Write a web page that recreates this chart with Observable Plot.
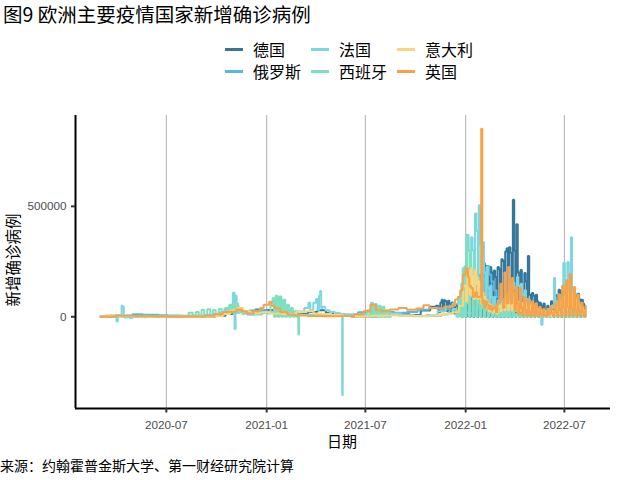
<!DOCTYPE html>
<html>
<head>
<meta charset="utf-8">
<script src="https://cdn.jsdelivr.net/npm/d3@7"></script>
<script src="https://cdn.jsdelivr.net/npm/@observablehq/plot@0.6"></script>
<style>
  body { margin: 0; width: 640px; height: 480px; position: relative; overflow: hidden; background: #fff; font-family: "Noto Sans CJK SC", sans-serif; }
  .abs { position: absolute; white-space: nowrap; color: #000; }
  #chart { position: absolute; left: 0; top: 100px; }
</style>
</head>
<body>
<div class="abs" id="title" style="left:3px; top:2px; font-size:19.5px; line-height:24px;">图9 欧洲主要疫情国家新增确诊病例</div>
<div id="legend"></div>
<div id="chart"></div>
<div class="abs" style="left:242px; top:430px; width:200px; text-align:center; font-size:15px; line-height:22px;">日期</div>
<div class="abs" style="left:-88px; top:249px; width:200px; text-align:center; font-size:15.5px; line-height:22px; transform:rotate(-90deg);">新增确诊病例</div>
<div class="abs" style="left:0px; top:455px; font-size:14px; line-height:20px;">来源：约翰霍普金斯大学、第一财经研究院计算</div>
<script>
const countries = ["德国", "俄罗斯", "法国", "西班牙", "意大利", "英国"];
const colors = ["#35769B", "#56B9E4", "#7ED7DF", "#7EE0C0", "#FBD57E", "#F7A148"];
const tickDates = ["2020-07-01", "2021-01-01", "2021-07-01", "2022-01-01", "2022-07-01"];
const yTicks = [0, 500000];

const germany = [["2020-03-01",100],["2020-03-15",1500],["2020-03-27",6500],["2020-04-03",6000],["2020-04-12",3000],["2020-04-25",1500],["2020-05-15",600],["2020-06-20",800],["2020-07-20",500],["2020-08-20",1500],["2020-09-20",1800],["2020-10-10",4500],["2020-10-25",12000],["2020-11-06",22000],["2020-11-20",23000],["2020-12-05",20000],["2020-12-18",33000],["2020-12-24",22000],["2020-12-30",30000],["2021-01-08",31000],["2021-01-20",17000],["2021-02-05",11000],["2021-02-20",8000],["2021-03-10",12000],["2021-03-25",22000],["2021-04-14",29000],["2021-04-25",18000],["2021-05-10",9000],["2021-05-25",5000],["2021-06-15",1500],["2021-07-10",700],["2021-08-05",2500],["2021-08-25",12000],["2021-09-10",11000],["2021-10-01",8000],["2021-10-20",28000],["2021-11-05",45000],["2021-11-10",50000],["2021-11-14",20000],["2021-11-17",65000],["2021-11-19",77000],["2021-11-21",25000],["2021-11-24",75000],["2021-11-26",70000],["2021-11-28",25000],["2021-12-01",72000],["2021-12-03",60000],["2021-12-05",20000],["2021-12-08",65000],["2021-12-10",54000],["2021-12-12",15000],["2021-12-15",55000],["2021-12-17",50000],["2021-12-19",12000],["2021-12-22",45000],["2021-12-24",30000],["2021-12-26",0],["2021-12-29",40000],["2021-12-31",42000],["2022-01-02",0],["2022-01-05",58000],["2022-01-07",56000],["2022-01-09",0],["2022-01-12",80000],["2022-01-14",90000],["2022-01-16",0],["2022-01-19",130000],["2022-01-21",140000],["2022-01-23",0],["2022-01-26",165000],["2022-01-28",190000],["2022-01-30",0],["2022-02-02",240000],["2022-02-04",243000],["2022-02-06",0],["2022-02-09",230000],["2022-02-11",215000],["2022-02-13",0],["2022-02-16",225000],["2022-02-18",200000],["2022-02-20",0],["2022-02-23",210000],["2022-02-25",180000],["2022-02-27",0],["2022-03-02",225000],["2022-03-04",215000],["2022-03-06",0],["2022-03-09",260000],["2022-03-11",252000],["2022-03-13",0],["2022-03-16",295000],["2022-03-18",310000],["2022-03-20",0],["2022-03-23",315000],["2022-03-25",290000],["2022-03-27",0],["2022-03-30",530000],["2022-04-01",300000],["2022-04-03",0],["2022-04-05",419000],["2022-04-08",200000],["2022-04-10",0],["2022-04-13",212000],["2022-04-15",80000],["2022-04-17",0],["2022-04-20",198000],["2022-04-22",160000],["2022-04-24",0],["2022-04-26",275000],["2022-04-29",100000],["2022-05-01",0],["2022-05-04",108000],["2022-05-06",95000],["2022-05-08",0],["2022-05-11",100000],["2022-05-13",70000],["2022-05-15",0],["2022-05-18",63000],["2022-05-20",50000],["2022-05-22",0],["2022-05-25",60000],["2022-05-27",30000],["2022-05-29",0],["2022-06-01",50000],["2022-06-03",40000],["2022-06-05",0],["2022-06-08",70000],["2022-06-10",60000],["2022-06-12",0],["2022-06-15",100000],["2022-06-17",95000],["2022-06-19",0],["2022-06-22",122000],["2022-06-24",110000],["2022-06-26",0],["2022-06-29",120000],["2022-07-01",105000],["2022-07-03",0],["2022-07-06",150000],["2022-07-08",120000],["2022-07-10",0],["2022-07-13",140000],["2022-07-15",110000],["2022-07-17",0],["2022-07-20",110000],["2022-07-22",95000],["2022-07-24",0],["2022-07-27",104000],["2022-07-29",80000],["2022-07-31",0],["2022-08-03",77000],["2022-08-05",60000],["2022-08-07",0],["2022-08-10",50000]];

const russia = [["2020-03-01",0],["2020-03-25",150],["2020-04-10",1800],["2020-04-25",6000],["2020-05-05",11000],["2020-05-12",11500],["2020-05-25",9000],["2020-06-10",8800],["2020-06-25",7000],["2020-07-15",6000],["2020-08-10",5200],["2020-08-30",4900],["2020-09-20",6500],["2020-10-10",13000],["2020-10-30",18000],["2020-11-20",24000],["2020-12-10",28000],["2020-12-24",29500],["2021-01-10",23000],["2021-01-31",17000],["2021-02-20",13000],["2021-03-15",9500],["2021-04-15",8500],["2021-05-15",8500],["2021-06-10",10000],["2021-06-25",20000],["2021-07-10",25000],["2021-08-10",22000],["2021-09-05",18000],["2021-09-25",22000],["2021-10-15",32000],["2021-11-06",41000],["2021-11-25",34000],["2021-12-15",28000],["2021-12-31",21000],["2022-01-10",16000],["2022-01-20",38000],["2022-01-27",75000],["2022-02-01",125000],["2022-02-05",170000],["2022-02-08",200000],["2022-02-11",230000],["2022-02-15",190000],["2022-02-19",160000],["2022-02-24",120000],["2022-03-01",90000],["2022-03-08",60000],["2022-03-15",45000],["2022-03-25",33000],["2022-04-05",25000],["2022-04-15",16000],["2022-05-01",10000],["2022-05-20",4500],["2022-06-10",3500],["2022-06-30",3200],["2022-07-15",4000],["2022-07-31",8000],["2022-08-10",15000]];

const france = [["2020-03-01",0],["2020-03-20",1500],["2020-03-30",4500],["2020-04-02",-21000],["2020-04-04",5000],["2020-04-09",6000],["2020-04-11",50000],["2020-04-13",45000],["2020-04-15",4000],["2020-04-22",2500],["2020-04-28",-5000],["2020-05-02",1000],["2020-05-20",500],["2020-06-10",400],["2020-07-10",700],["2020-08-10",2500],["2020-09-01",5000],["2020-09-15",9000],["2020-10-01",12000],["2020-10-12",20000],["2020-10-22",40000],["2020-10-29",55000],["2020-11-02",109000],["2020-11-04",-55000],["2020-11-06",95000],["2020-11-08",60000],["2020-11-11",40000],["2020-11-15",35000],["2020-11-22",15000],["2020-12-01",9000],["2020-12-15",14000],["2021-01-01",17000],["2021-01-20",22000],["2021-02-10",20000],["2021-03-05",24000],["2021-03-17",40000],["2021-03-20",63000],["2021-03-24",30000],["2021-03-31",64000],["2021-04-03",80000],["2021-04-06",30000],["2021-04-08",95000],["2021-04-10",117000],["2021-04-12",40000],["2021-04-15",45000],["2021-04-22",30000],["2021-05-01",22000],["2021-05-12",17000],["2021-05-19",13000],["2021-05-20",-355000],["2021-05-21",13000],["2021-06-01",8000],["2021-06-20",2500],["2021-07-10",5000],["2021-07-25",22000],["2021-08-05",25000],["2021-08-25",15000],["2021-09-15",7000],["2021-10-10",5000],["2021-11-01",8000],["2021-11-20",25000],["2021-12-01",45000],["2021-12-15",60000],["2021-12-22",90000],["2021-12-26",150000],["2021-12-29",200000],["2021-12-31",230000],["2022-01-03",60000],["2022-01-05",370000],["2022-01-08",300000],["2022-01-10",100000],["2022-01-12",360000],["2022-01-15",300000],["2022-01-17",100000],["2022-01-19",468000],["2022-01-22",390000],["2022-01-24",100000],["2022-01-26",505000],["2022-01-29",330000],["2022-01-31",80000],["2022-02-02",338000],["2022-02-05",200000],["2022-02-07",40000],["2022-02-09",225000],["2022-02-12",130000],["2022-02-14",20000],["2022-02-16",140000],["2022-02-19",90000],["2022-02-21",10000],["2022-02-23",90000],["2022-02-26",55000],["2022-02-28",8000],["2022-03-02",75000],["2022-03-05",50000],["2022-03-07",6000],["2022-03-09",80000],["2022-03-12",70000],["2022-03-14",9000],["2022-03-16",100000],["2022-03-19",85000],["2022-03-21",12000],["2022-03-23",140000],["2022-03-26",110000],["2022-03-28",20000],["2022-03-30",155000],["2022-04-02",130000],["2022-04-04",25000],["2022-04-06",180000],["2022-04-09",140000],["2022-04-11",30000],["2022-04-13",150000],["2022-04-16",100000],["2022-04-18",15000],["2022-04-20",120000],["2022-04-23",80000],["2022-04-25",15000],["2022-04-27",80000],["2022-04-30",50000],["2022-05-02",8000],["2022-05-04",60000],["2022-05-07",40000],["2022-05-09",5000],["2022-05-11",40000],["2022-05-14",30000],["2022-05-16",5000],["2022-05-18",35000],["2022-05-21",-36000],["2022-05-23",5000],["2022-05-25",30000],["2022-05-28",20000],["2022-05-30",3000],["2022-06-01",35000],["2022-06-04",25000],["2022-06-06",5000],["2022-06-08",50000],["2022-06-11",40000],["2022-06-13",175000],["2022-06-15",60000],["2022-06-18",70000],["2022-06-20",15000],["2022-06-22",100000],["2022-06-25",80000],["2022-06-27",20000],["2022-07-01",243000],["2022-07-03",80000],["2022-07-05",20000],["2022-07-08",248000],["2022-07-10",80000],["2022-07-12",15000],["2022-07-14",360000],["2022-07-16",50000],["2022-07-18",15000],["2022-07-20",100000],["2022-07-23",50000],["2022-07-25",10000],["2022-07-27",70000],["2022-07-30",35000],["2022-08-01",5000],["2022-08-03",45000],["2022-08-06",25000],["2022-08-08",5000],["2022-08-10",30000]];

const spain = [["2020-03-01",0],["2020-03-15",1500],["2020-03-25",8000],["2020-04-01",8000],["2020-04-10",5000],["2020-04-19",-3000],["2020-04-21",3500],["2020-05-05",1000],["2020-05-24",-2000],["2020-05-26",400],["2020-06-20",400],["2020-07-15",1500],["2020-08-05",4000],["2020-08-17",18000],["2020-08-20",5000],["2020-08-28",22000],["2020-08-31",6000],["2020-09-07",32000],["2020-09-10",8000],["2020-09-18",34000],["2020-09-21",8000],["2020-09-28",31000],["2020-10-01",8000],["2020-10-09",35000],["2020-10-12",9000],["2020-10-19",37000],["2020-10-22",15000],["2020-10-26",52000],["2020-10-29",20000],["2020-11-02",55000],["2020-11-05",20000],["2020-11-09",50000],["2020-11-12",18000],["2020-11-16",38000],["2020-11-19",12000],["2020-11-23",25000],["2020-11-30",20000],["2020-12-10",10000],["2020-12-20",10000],["2020-12-28",20000],["2021-01-05",15000],["2021-01-11",60000],["2021-01-13",85000],["2021-01-16",0],["2021-01-19",95000],["2021-01-23",0],["2021-01-26",92000],["2021-01-30",0],["2021-02-02",77000],["2021-02-06",0],["2021-02-09",55000],["2021-02-13",0],["2021-02-16",40000],["2021-02-20",0],["2021-02-23",25000],["2021-02-27",0],["2021-03-01",-80000],["2021-03-02",9000],["2021-03-15",8000],["2021-04-01",8000],["2021-04-15",12000],["2021-05-01",7000],["2021-05-20",5000],["2021-06-15",4000],["2021-07-01",12000],["2021-07-07",30000],["2021-07-10",0],["2021-07-13",63000],["2021-07-17",0],["2021-07-20",58000],["2021-07-24",0],["2021-07-27",50000],["2021-07-31",0],["2021-08-03",45000],["2021-08-07",0],["2021-08-10",30000],["2021-08-14",0],["2021-08-20",12000],["2021-09-10",5000],["2021-10-10",2500],["2021-11-10",3000],["2021-11-25",10000],["2021-12-05",18000],["2021-12-12",35000],["2021-12-18",0],["2021-12-21",80000],["2021-12-25",0],["2021-12-28",220000],["2022-01-01",0],["2022-01-03",372000],["2022-01-05",140000],["2022-01-08",0],["2022-01-10",300000],["2022-01-12",130000],["2022-01-15",0],["2022-01-17",250000],["2022-01-19",110000],["2022-01-22",0],["2022-01-24",180000],["2022-01-26",60000],["2022-01-29",0],["2022-01-31",110000],["2022-02-02",40000],["2022-02-05",0],["2022-02-07",80000],["2022-02-09",30000],["2022-02-12",0],["2022-02-14",60000],["2022-02-16",20000],["2022-02-19",0],["2022-02-21",45000],["2022-02-23",15000],["2022-02-26",0],["2022-02-28",30000],["2022-03-05",0],["2022-03-07",25000],["2022-03-12",0],["2022-03-14",25000],["2022-03-19",0],["2022-03-21",25000],["2022-03-26",0],["2022-03-29",30000],["2022-04-02",0],["2022-04-05",12000],["2022-04-09",0],["2022-04-12",10000],["2022-04-16",0],["2022-04-19",12000],["2022-04-23",0],["2022-04-26",15000],["2022-04-30",0],["2022-05-03",12000],["2022-05-07",0],["2022-05-10",11000],["2022-05-14",0],["2022-05-17",10000],["2022-05-21",0],["2022-05-24",12000],["2022-05-28",0],["2022-05-31",15000],["2022-06-04",0],["2022-06-07",18000],["2022-06-11",0],["2022-06-14",22000],["2022-06-18",0],["2022-06-21",28000],["2022-06-25",0],["2022-06-28",35000],["2022-07-02",0],["2022-07-05",30000],["2022-07-09",0],["2022-07-12",25000],["2022-07-16",0],["2022-07-19",20000],["2022-07-23",0],["2022-07-26",15000],["2022-07-30",0],["2022-08-02",10000],["2022-08-06",0],["2022-08-09",8000],["2022-08-10",0]];

const italy = [["2020-03-01",500],["2020-03-21",6500],["2020-04-05",4300],["2020-04-20",3000],["2020-05-10",1000],["2020-06-10",300],["2020-07-15",200],["2020-08-15",600],["2020-09-15",1500],["2020-10-05",2500],["2020-10-20",12000],["2020-11-01",30000],["2020-11-13",40000],["2020-11-25",25000],["2020-12-10",17000],["2020-12-31",20000],["2021-01-15",15000],["2021-02-10",12000],["2021-03-10",22000],["2021-03-20",25000],["2021-04-05",15000],["2021-04-20",13000],["2021-05-10",8000],["2021-06-01",3000],["2021-06-25",800],["2021-07-25",5000],["2021-08-15",6000],["2021-09-15",4500],["2021-10-15",3000],["2021-11-10",7000],["2021-12-01",13000],["2021-12-15",20000],["2021-12-24",50000],["2021-12-31",140000],["2022-01-03",70000],["2022-01-05",190000],["2022-01-07",210000],["2022-01-10",100000],["2022-01-12",220000],["2022-01-14",185000],["2022-01-17",80000],["2022-01-19",210000],["2022-01-21",180000],["2022-01-24",80000],["2022-01-26",160000],["2022-01-28",140000],["2022-01-31",60000],["2022-02-02",110000],["2022-02-04",90000],["2022-02-07",40000],["2022-02-09",75000],["2022-02-11",60000],["2022-02-14",25000],["2022-02-16",55000],["2022-02-18",45000],["2022-02-21",20000],["2022-02-23",45000],["2022-02-25",40000],["2022-02-28",15000],["2022-03-02",45000],["2022-03-04",50000],["2022-03-07",25000],["2022-03-09",60000],["2022-03-11",55000],["2022-03-14",30000],["2022-03-16",80000],["2022-03-18",75000],["2022-03-21",30000],["2022-03-23",75000],["2022-03-25",75000],["2022-03-28",30000],["2022-03-30",80000],["2022-04-01",70000],["2022-04-04",30000],["2022-04-06",70000],["2022-04-08",65000],["2022-04-11",25000],["2022-04-13",65000],["2022-04-15",60000],["2022-04-18",20000],["2022-04-20",70000],["2022-04-22",55000],["2022-04-25",25000],["2022-04-27",60000],["2022-04-29",50000],["2022-05-02",15000],["2022-05-04",50000],["2022-05-06",45000],["2022-05-09",15000],["2022-05-11",45000],["2022-05-13",35000],["2022-05-16",12000],["2022-05-18",30000],["2022-05-20",25000],["2022-05-23",8000],["2022-05-25",25000],["2022-05-27",20000],["2022-05-30",6000],["2022-06-01",20000],["2022-06-03",18000],["2022-06-06",5000],["2022-06-08",25000],["2022-06-10",25000],["2022-06-13",10000],["2022-06-15",40000],["2022-06-17",45000],["2022-06-20",15000],["2022-06-22",60000],["2022-06-24",70000],["2022-06-27",25000],["2022-06-29",85000],["2022-07-01",90000],["2022-07-04",30000],["2022-07-06",110000],["2022-07-08",100000],["2022-07-11",40000],["2022-07-13",115000],["2022-07-15",100000],["2022-07-18",35000],["2022-07-20",90000],["2022-07-22",80000],["2022-07-25",25000],["2022-07-27",60000],["2022-07-29",50000],["2022-08-01",15000],["2022-08-03",40000],["2022-08-05",30000],["2022-08-08",10000],["2022-08-10",30000]];

const uk = [["2020-03-01",30],["2020-03-20",700],["2020-04-10",5000],["2020-04-25",4500],["2020-05-10",3500],["2020-06-01",2000],["2020-06-20",1000],["2020-07-15",600],["2020-08-15",1000],["2020-09-01",1500],["2020-09-20",4500],["2020-10-05",12000],["2020-10-20",22000],["2020-11-01",23000],["2020-11-12",33000],["2020-11-20",25000],["2020-12-01",15000],["2020-12-15",25000],["2020-12-24",40000],["2020-12-29",55000],["2021-01-03",55000],["2021-01-08",68000],["2021-01-12",50000],["2021-01-20",38000],["2021-02-01",20000],["2021-02-15",10000],["2021-03-01",6000],["2021-04-01",4000],["2021-05-01",2000],["2021-06-01",4000],["2021-06-20",11000],["2021-07-05",25000],["2021-07-15",54000],["2021-07-25",30000],["2021-08-05",27000],["2021-08-25",33000],["2021-09-05",40000],["2021-09-25",32000],["2021-10-10",37000],["2021-10-21",52000],["2021-11-01",40000],["2021-11-15",38000],["2021-11-30",45000],["2021-12-10",50000],["2021-12-15",78000],["2021-12-20",90000],["2021-12-24",120000],["2021-12-29",190000],["2022-01-04",220000],["2022-01-06",180000],["2022-01-09",140000],["2022-01-12",130000],["2022-01-16",90000],["2022-01-20",110000],["2022-01-24",90000],["2022-01-28",90000],["2022-01-31",851000],["2022-02-01",60000],["2022-02-03",75000],["2022-02-06",40000],["2022-02-08",70000],["2022-02-11",55000],["2022-02-14",35000],["2022-02-16",50000],["2022-02-19",30000],["2022-02-21",40000],["2022-02-24",45000],["2022-02-27",20000],["2022-03-01",60000],["2022-03-04",70000],["2022-03-07",150000],["2022-03-09",80000],["2022-03-12",40000],["2022-03-14",200000],["2022-03-16",110000],["2022-03-19",60000],["2022-03-21",225000],["2022-03-23",130000],["2022-03-26",60000],["2022-03-28",175000],["2022-03-30",110000],["2022-04-02",30000],["2022-04-04",135000],["2022-04-06",60000],["2022-04-09",10000],["2022-04-11",130000],["2022-04-14",40000],["2022-04-16",5000],["2022-04-19",90000],["2022-04-21",30000],["2022-04-24",5000],["2022-04-26",80000],["2022-04-28",25000],["2022-05-01",3000],["2022-05-04",70000],["2022-05-06",20000],["2022-05-08",3000],["2022-05-10",60000],["2022-05-13",15000],["2022-05-15",2000],["2022-05-17",45000],["2022-05-20",10000],["2022-05-22",2000],["2022-05-24",35000],["2022-05-27",8000],["2022-05-29",2000],["2022-05-31",30000],["2022-06-03",8000],["2022-06-06",45000],["2022-06-09",15000],["2022-06-12",3000],["2022-06-14",60000],["2022-06-17",20000],["2022-06-19",3000],["2022-06-21",100000],["2022-06-24",30000],["2022-06-26",3000],["2022-06-28",140000],["2022-07-01",40000],["2022-07-03",3000],["2022-07-05",165000],["2022-07-08",45000],["2022-07-10",3000],["2022-07-12",194000],["2022-07-15",40000],["2022-07-17",3000],["2022-07-19",135000],["2022-07-22",30000],["2022-07-24",3000],["2022-07-26",100000],["2022-07-29",25000],["2022-07-31",3000],["2022-08-02",63000],["2022-08-05",20000],["2022-08-07",2000],["2022-08-10",50000]];

const seriesList = [germany, russia, france, spain, italy, uk];

const rows = countries.flatMap((c, i) =>
  seriesList[i].map(([d, v]) => ({country: c, date: new Date(d), value: v})));

const [d0, d1] = d3.extent(rows, r => r.date);
const dPad = (d1 - d0) * 0.05;
const xDomain = [new Date(+d0 - dPad), new Date(+d1 + dPad)];
const [v0, v1] = d3.extent(rows, r => r.value);
const vPad = (v1 - v0) * 0.05;
const yDomain = [v0 - vPad, v1 + vPad];
const tickDateObjs = tickDates.map(d => new Date(d));

const plot = Plot.plot({
  width: 640,
  height: 355,
  marginTop: 15,
  marginRight: 30,
  marginBottom: 47,
  marginLeft: 75,
  style: {fontFamily: "'Liberation Sans', Arial, sans-serif", fontSize: "11.7px", background: "#fff", overflow: "visible"},
  x: {type: "utc", domain: xDomain},
  y: {domain: yDomain},
  color: {domain: countries, range: colors},
  marks: [
    Plot.gridX(tickDateObjs, {stroke: "#b5b5b5", strokeOpacity: 1, strokeWidth: 1.1}),
    Plot.line(rows, {x: "date", y: "value", z: "country", stroke: "country", strokeWidth: 2, curve: "step", strokeLinecap: "butt", strokeLinejoin: "miter"}),
    Plot.ruleX([xDomain[0]], {stroke: "#000", strokeWidth: 2}),
    Plot.ruleY([yDomain[0]], {stroke: "#000", strokeWidth: 2}),
    Plot.axisY(yTicks, {tickSize: 4, tickPadding: 5, tickFormat: d => String(d), stroke: "#333", strokeWidth: 2, fill: "#4d4d4d", label: null}),
    Plot.axisX(tickDateObjs, {tickSize: 4.5, tickPadding: 8, tickFormat: d3.utcFormat("%Y-%m"), stroke: "#333", strokeWidth: 2, fill: "#4d4d4d", label: null})
  ]
});
document.getElementById("chart").appendChild(plot);

// legend
const legend = document.getElementById("legend");
const colX = [225, 311, 397];
const rowY = [49, 71];
countries.forEach((c, i) => {
  const col = Math.floor(i / 2), row = i % 2;
  const key = document.createElement("div");
  key.className = "abs";
  key.style.cssText = `left:${colX[col]}px; top:${rowY[row] - 1.5}px; width:18px; height:3px; background:${colors[i]};`;
  legend.appendChild(key);
  const t = document.createElement("div");
  t.className = "abs";
  t.style.cssText = `left:${colX[col] + 28}px; top:${rowY[row] - 11}px; font-size:16px; line-height:22px;`;
  t.textContent = c;
  legend.appendChild(t);
});
</script>
</body>
</html>
